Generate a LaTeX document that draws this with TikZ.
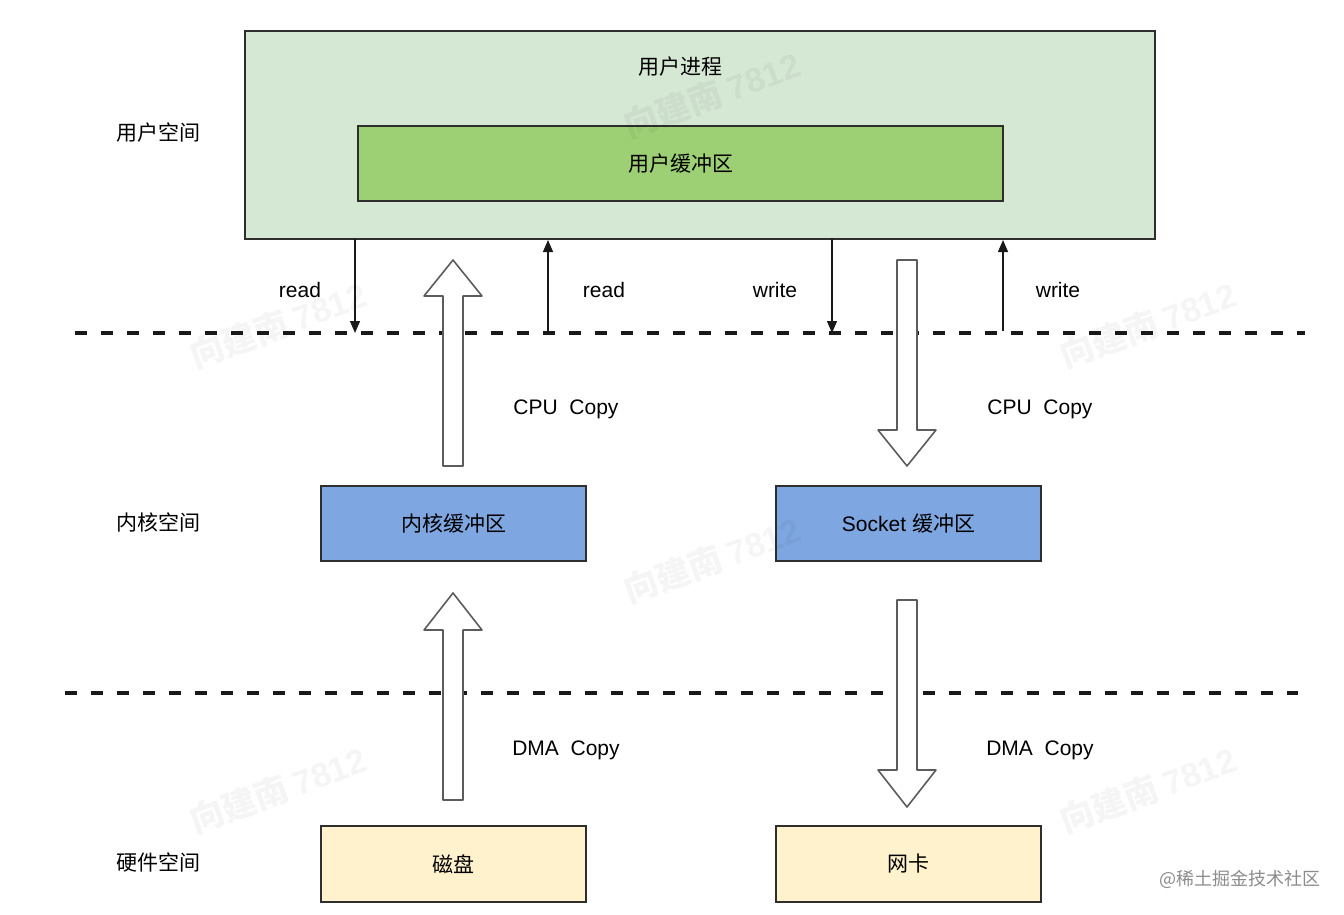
\documentclass[tikz,border=0pt]{standalone}
\usepackage{fontspec}
\setmainfont{Liberation Sans}
\newfontfamily\cjk{Noto Sans CJK SC}
\usetikzlibrary{arrows.meta}
\definecolor{procfill}{HTML}{D5E8D4}
\definecolor{ubuf}{HTML}{9DCF74}
\definecolor{kbuf}{HTML}{7EA6E0}
\definecolor{hwfill}{HTML}{FFF2CC}
\definecolor{edge}{HTML}{2E2E2E}
\definecolor{blk}{HTML}{5C5C5C}
\begin{document}
\begin{tikzpicture}[x=1pt,y=-1pt,
  txt/.style={font=\fontsize{21}{24}\selectfont, inner sep=0pt},
  cjktxt/.style={font=\fontsize{21}{24}\selectfont\cjk, inner sep=0pt},
  box/.style={draw=edge, line width=1.4pt, rectangle, inner sep=0pt},
  sep/.style={line width=3.2pt, dash pattern=on 12pt off 14pt, black!90},
  thinarrow/.style={line width=1.4pt, black!90, -{Triangle[length=12pt,width=10pt]}},
  blockarrow/.style={draw=blk, fill=white, line width=1.6pt, line join=round},
  wm/.style={font=\fontsize{34}{36}\selectfont\cjk\bfseries, text=black, text opacity=0.04, rotate=20}
]
\useasboundingbox (0,0) rectangle (1344,914);

% level labels
\node[cjktxt] (lu) at (158,133) {用户空间};
\node[cjktxt] (lk) at (158,522) {内核空间};
\node[cjktxt] (lh) at (158,862) {硬件空间};

% boxes
\node[box, fill=procfill, minimum width=910pt, minimum height=208pt] (proc) at (700,135) {};
\node[cjktxt] (proct) at (680,67) {用户进程};
\node[box, fill=ubuf, minimum width=645pt, minimum height=75pt, cjktxt] (ub) at (680.5,163.5) {用户缓冲区};
\node[box, fill=kbuf, minimum width=265pt, minimum height=75pt, cjktxt] (kb) at (453.5,523.5) {内核缓冲区};
\node[box, fill=kbuf, minimum width=265pt, minimum height=75pt, txt] (sb) at (908.5,523.5) {Socket {\cjk 缓冲区}};
\node[box, fill=hwfill, minimum width=265pt, minimum height=76pt, cjktxt] (disk) at (453.5,864) {磁盘};
\node[box, fill=hwfill, minimum width=265pt, minimum height=76pt, cjktxt] (nic) at (908.5,864) {网卡};

% separators
\coordinate (s1a) at (75,333);
\coordinate (s1b) at (1305,333);
\coordinate (s2a) at (65,693);
\coordinate (s2b) at (1298,693);
\draw[sep] (s1a) -- (s1b);
\draw[sep] (s2a) -- (s2b);

% thin arrows
\coordinate (r1t) at (355,239);  \coordinate (r1b) at (355,333);
\coordinate (r2b) at (548,333);  \coordinate (r2t) at (548,240);
\coordinate (w1t) at (832,239);  \coordinate (w1b) at (832,333);
\coordinate (w2b) at (1003,331); \coordinate (w2t) at (1003,240);
\draw[thinarrow] (r1t) -- (r1b);
\draw[thinarrow] (r2b) -- (r2t);
\draw[thinarrow] (w1t) -- (w1b);
\draw[thinarrow] (w2b) -- (w2t);
\node[txt] (rl1) at (300,290) {read};
\node[txt] (rl2) at (604,290) {read};
\node[txt] (wl1) at (775,290) {write};
\node[txt] (wl2) at (1058,290) {write};

% block arrows: center x, tip y, head base y, tail y
\newcommand\blkarrow[4]{%
  \draw[blockarrow] (#1,#2) -- (#1+29,#3) -- (#1+10,#3) -- (#1+10,#4) -- (#1-10,#4) -- (#1-10,#3) -- (#1-29,#3) -- cycle;}
\blkarrow{453}{260}{296}{466}
\blkarrow{907}{466}{430}{260}
\blkarrow{453}{593}{630}{800}
\blkarrow{907}{807}{770}{600}

\node[txt] (c1) at (566,409) {CPU\ \ Copy};
\node[txt] (c2) at (1040,409) {CPU\ \ Copy};
\node[txt] (d1) at (566,750) {DMA\ \ Copy};
\node[txt] (d2) at (1040,750) {DMA\ \ Copy};

% credit
\node[font=\fontsize{18}{20}\selectfont\cjk, text=black!45, inner sep=0pt] (credit) at (1240,879) {@稀土掘金技术社区};

% watermarks (faint, on top)
\foreach \wx/\wy [count=\i] in {712/95, 278/325, 1148/325, 712/560, 278/790, 1148/790}
  \node[wm] (wm\i) at (\wx,\wy) {向建南 {\fontspec{Liberation Sans}7812}};
\end{tikzpicture}
\end{document}
